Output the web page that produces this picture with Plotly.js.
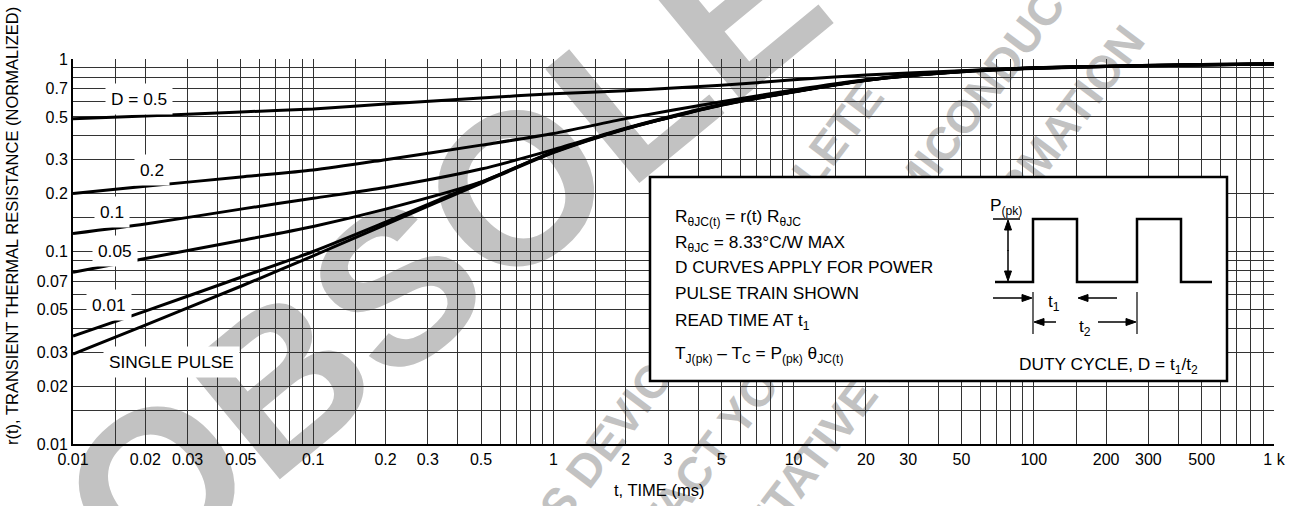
<!DOCTYPE html>
<html><head><meta charset="utf-8">
<script src="https://cdn.plot.ly/plotly-3.0.1.min.js"></script>
<style>
html,body{margin:0;padding:0;background:#fff;}
#wrap{position:relative;width:1299px;height:506px;overflow:hidden;}
#wm{position:absolute;left:0;top:0;z-index:0;}
#chart{position:absolute;left:0;top:0;width:1299px;height:506px;z-index:1;}
</style>
</head><body>
<div id="wrap"><svg id="wm" width="1299" height="506" xmlns="http://www.w3.org/2000/svg"></svg><div id="chart"></div></div>
<script>
// ---- data ----
const timeMs = [0.01, 0.02, 0.05, 0.1, 0.2, 0.5, 1, 2, 5, 10, 20, 50, 100, 200, 500, 1000];
const rD050 = [0.49, 0.506, 0.531, 0.55, 0.583, 0.627, 0.66, 0.685, 0.73, 0.78, 0.825, 0.87, 0.9, 0.918, 0.935, 0.945];
const rD020 = [0.20, 0.218, 0.244, 0.265, 0.30, 0.357, 0.41, 0.49, 0.60, 0.69, 0.78, 0.865, 0.9, 0.918, 0.935, 0.945];
const rD010 = [0.124, 0.139, 0.166, 0.189, 0.215, 0.268, 0.338, 0.437, 0.58, 0.678, 0.778, 0.862, 0.897, 0.916, 0.933, 0.943];
const rD005 = [0.078, 0.092, 0.114, 0.135, 0.166, 0.23, 0.33, 0.435, 0.578, 0.676, 0.776, 0.86, 0.895, 0.915, 0.932, 0.942];
const rD001 = [0.0364, 0.049, 0.0735, 0.10, 0.142, 0.229, 0.328, 0.434, 0.576, 0.675, 0.775, 0.859, 0.894, 0.914, 0.932, 0.942];
const rSingle = [0.0293, 0.0415, 0.066, 0.095, 0.138, 0.226, 0.326, 0.433, 0.575, 0.674, 0.774, 0.858, 0.893, 0.914, 0.932, 0.942];
const curveLabels = ["D = 0.5", "0.2", "0.1", "0.05", "0.01", "SINGLE PULSE"];

const xLabelVals = [0.01,0.02,0.03,0.05,0.1,0.2,0.3,0.5,1,2,3,5,10,20,30,50,100,200,300,500,1000];
const xLabelText = ["0.01","0.02","0.03","0.05","0.1","0.2","0.3","0.5","1","2","3","5","10","20","30","50","100","200","300","500","1 k"];
const xMinorVals = [0.015,0.04,0.06,0.07,0.08,0.09,0.15,0.4,0.6,0.7,0.8,0.9,1.5,4,6,7,8,9,15,40,60,70,80,90,150,400,600,700,800,900];
const yLabelVals = [0.01,0.02,0.03,0.05,0.07,0.1,0.2,0.3,0.5,0.7,1];
const yLabelText = ["0.01","0.02","0.03","0.05","0.07","0.1","0.2","0.3","0.5","0.7","1"];
const yMinorVals = [0.015,0.04,0.06,0.08,0.09,0.15,0.4,0.6,0.8,0.9];

// ---- layout geometry ----
const W = 1299, H = 506, ML = 73, MR = 25, MT = 59, MB = 62;
const PW = W - ML - MR, PH = H - MT - MB;
const px = v => (v - ML) / PW;          // pixel x -> paper
const py = v => (H - MB - v) / PH;      // pixel y -> paper
const FONT = "'Liberation Sans', Arial, Helvetica, sans-serif";
const GRID = "#333333";

// ---- background watermark (gray, under the grid) ----
(function () {
  const NS = "http://www.w3.org/2000/svg", svg = document.getElementById("wm");
  const ctx = document.createElement("canvas").getContext("2d");
  function wmText(str, fs, angle, ax, ay, prefix, sub) {
    ctx.font = "bold " + fs + "px 'Liberation Sans'";
    const off = ctx.measureText(prefix).width + ctx.measureText(sub).width / 2;
    const t = document.createElementNS(NS, "text");
    t.setAttribute("transform", "translate(" + ax + "," + ay + ") rotate(" + (-angle) + ")");
    t.setAttribute("x", -off); t.setAttribute("y", 0.36 * fs);
    t.setAttribute("font-family", "'Liberation Sans', Arial, sans-serif");
    t.setAttribute("font-weight", "bold"); t.setAttribute("font-size", fs);
    t.setAttribute("fill", "#c2c2c2");
    t.textContent = str;
    svg.appendChild(t);
  }
  wmText("OBSOLETE", 215, 39.5, 155, 482, "", "O");
  wmText("THIS DEVICE IS OBSOLETE", 46, 53, 618, 425, "THIS ", "DEVIC");
  wmText("CONTACT YOUR ON SEMICONDUCTOR", 46, 53, 728, 428, "CONT", "ACT YOU");
  wmText("REPRESENTATIVE FOR INFORMATION", 46, 53, 1080, 102, "REPRESENTATIVE FOR INFOR", "MATION");
})();

const series = [rD050, rD020, rD010, rD005, rD001, rSingle];
const traces = series.map((ys, i) => ({
  x: timeMs, y: ys, type: "scatter", mode: "lines", name: curveLabels[i],
  line: {color: "#000", width: 3, shape: "spline", smoothing: 0.7}, hoverinfo: "skip", showlegend: false
}));

const annotations = [];
const labelPos = [[139, 99], [152, 170], [112, 212], [115, 251], [109, 305], [171, 362]];
curveLabels.forEach((t, i) => annotations.push({
  text: t, xref: "paper", yref: "paper", x: px(labelPos[i][0]), y: py(labelPos[i][1]),
  xanchor: "center", yanchor: "middle", showarrow: false, bgcolor: "#fff", borderpad: 5,
  font: {family: FONT, size: 17.3, color: "#000"}
}));

const boxLines = [
  "R<sub>θJC(t)</sub> = r(t) R<sub>θJC</sub>",
  "R<sub>θJC</sub> = 8.33°C/W MAX",
  "D CURVES APPLY FOR POWER",
  "PULSE TRAIN SHOWN",
  "READ TIME AT t<sub>1</sub>",
  "T<sub>J(pk)</sub> – T<sub>C</sub> = P<sub>(pk)</sub> θ<sub>JC(t)</sub>"
];
const boxLineY = [217, 243, 267, 293, 321, 354];
boxLines.forEach((t, i) => annotations.push({
  text: t, xref: "paper", yref: "paper", x: px(673), y: py(boxLineY[i]),
  xanchor: "left", yanchor: "middle", showarrow: false,
  font: {family: FONT, size: 17.3, color: "#000"}
}));
// diagram texts
[["P<sub>(pk)</sub>", 1006, 206], ["t<sub>1</sub>", 1054, 302],
 ["t<sub>2</sub>", 1085, 327], ["DUTY CYCLE, D = t<sub>1</sub>/t<sub>2</sub>", 1108, 365]]
 .forEach(a => annotations.push({text: a[0], xref: "paper", yref: "paper", x: px(a[1]), y: py(a[2]),
   xanchor: "center", yanchor: "middle", showarrow: false, font: {family: FONT, size: 17.3, color: "#000"}}));

// axis titles
annotations.push({text: "r(t), TRANSIENT THERMAL RESISTANCE (NORMALIZED)", xref: "paper", yref: "paper",
  x: px(12), y: py(226), textangle: -90, showarrow: false, xanchor: "center", yanchor: "middle",
  font: {family: FONT, size: 16.5, color: "#000"}});
annotations.push({text: "t, TIME (ms)", xref: "paper", yref: "paper", x: px(659), y: py(490),
  showarrow: false, xanchor: "center", yanchor: "middle", font: {family: FONT, size: 16.5, color: "#000"}});

const pathFrom = pts => "M " + pts.map(p => px(p[0]) + "," + py(p[1])).join(" L ");
const shapes = [
  {type: "rect", xref: "paper", yref: "paper", x0: px(650), x1: px(1227), y0: py(381), y1: py(177),
   line: {color: "#000", width: 2.5}, fillcolor: "#fff", layer: "above"},
  {type: "path", xref: "paper", yref: "paper", layer: "above", line: {color: "#000", width: 2.5},
   path: pathFrom([[995,282],[1033,282],[1033,219],[1077,219],[1077,282],[1137,282],[1137,219],[1181,219],[1181,282],[1212,282]])},
  {type: "path", xref: "paper", yref: "paper", layer: "above", line: {color: "#000", width: 1.5},
   path: pathFrom([[993,219],[1020,219]])},
  {type: "path", xref: "paper", yref: "paper", layer: "above", line: {color: "#000", width: 1.2},
   path: pathFrom([[1033,292],[1033,334]])},
  {type: "path", xref: "paper", yref: "paper", layer: "above", line: {color: "#000", width: 1.2},
   path: pathFrom([[1137,292],[1137,334]])}
];
// arrows drawn as a shaft plus a filled head
function arrowShape(hx, hy, tx, ty) {
  const dx = hx - tx, dy = hy - ty, L = Math.hypot(dx, dy), ux = dx / L, uy = dy / L;
  const hl = 10, hw = 3.5, bx = hx - ux * hl, by = hy - uy * hl;
  shapes.push({type: "path", xref: "paper", yref: "paper", layer: "above", line: {color: "#000", width: 1.5},
    path: pathFrom([[tx, ty], [bx, by]])});
  shapes.push({type: "path", xref: "paper", yref: "paper", layer: "above", line: {color: "#000", width: 1},
    fillcolor: "#000", path: pathFrom([[hx, hy], [bx - uy * hw, by + ux * hw], [bx + uy * hw, by - ux * hw]]) + " Z"});
}
arrowShape(1008, 220, 1008, 251); arrowShape(1008, 281, 1008, 250);
arrowShape(1032, 298, 993, 298);
arrowShape(1078, 298, 1117, 298);
arrowShape(1034, 322, 1056, 322);
arrowShape(1136, 322, 1098, 322);

const axisCommon = {type: "log", tickmode: "array", ticks: "", showgrid: true, gridcolor: GRID, gridwidth: 1,
  showline: true, linecolor: "#000", linewidth: 2, zeroline: false,
  tickfont: {family: FONT, size: 16, color: "#000"}};
const layout = {
  width: W, height: H, margin: {l: ML, r: MR, t: MT, b: MB, pad: 0},
  paper_bgcolor: "rgba(0,0,0,0)", plot_bgcolor: "rgba(0,0,0,0)",
  font: {family: FONT, size: 16, color: "#000"},
  xaxis: Object.assign({}, axisCommon, {range: [-2, 3], tickvals: xLabelVals, ticktext: xLabelText,
    minor: {tickmode: "array", tickvals: xMinorVals, showgrid: true, gridcolor: GRID, gridwidth: 1, ticks: ""}}),
  yaxis: Object.assign({}, axisCommon, {range: [-2, 0], tickvals: yLabelVals, ticktext: yLabelText,
    minor: {tickmode: "array", tickvals: yMinorVals, showgrid: true, gridcolor: GRID, gridwidth: 1, ticks: ""}}),
  annotations: annotations, shapes: shapes, showlegend: false
};
Plotly.newPlot("chart", traces, layout, {staticPlot: true, displayModeBar: false});
</script></body></html>
